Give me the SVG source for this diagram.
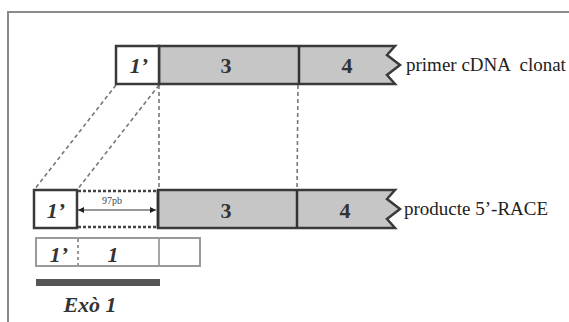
<svg xmlns="http://www.w3.org/2000/svg" width="569" height="322" viewBox="0 0 569 322">
<defs>
<style>
.frame{fill:none;stroke:#8a8a8a;stroke-width:2}
.bar{fill:#c6c6c6;stroke:#3a3a3a;stroke-width:2.5;stroke-linejoin:miter}
.box{fill:#fff;stroke:#3a3a3a;stroke-width:2.5}
.div{stroke:#333;stroke-width:2.5}
.dash{stroke:#777;stroke-width:1.6;stroke-dasharray:4 3;fill:none}
.dot{stroke:#444;stroke-width:2.5;stroke-dasharray:3 2;fill:none}
.lbl{font-family:"Liberation Serif",serif;font-weight:bold;font-size:22px;fill:#333;text-anchor:middle}
.it{font-style:italic}
.cap{font-family:"Liberation Serif",serif;font-size:19px;fill:#222;white-space:pre}
.light{fill:#fff;stroke:#9a9a9a;stroke-width:2}
</style>
<marker id="ah" viewBox="0 0 6 6" refX="6" refY="3" markerWidth="5" markerHeight="5" orient="auto-start-reverse">
<path d="M0,0 L6,3 L0,6 z" fill="#222"/>
</marker>
</defs>
<path class="frame" d="M8,322 V12 H569"/>
<g id="connectors">
<line class="dash" x1="116" y1="85" x2="34" y2="190"/>
<line class="dash" x1="159" y1="85" x2="77" y2="190"/>
<line class="dash" x1="159" y1="85" x2="159" y2="190"/>
<line class="dash" x1="298" y1="85" x2="297" y2="190"/>
</g>
<g id="top-bar">
<path class="bar" d="M159,46 H395 L387,55 L400,65 L387,75 L395,84 H159 Z"/>
<rect class="box" x="116" y="46" width="43" height="38"/>
<line class="div" x1="299" y1="46" x2="299" y2="84"/>
<text class="lbl it" x="139" y="73">1’</text>
<text class="lbl" x="226" y="73">3</text>
<text class="lbl" x="347" y="73">4</text>
<text class="cap" x="406" y="71" xml:space="preserve">primer cDNA  clonat</text>
</g>
<g id="race-bar">
<path class="bar" d="M158,190 H395 L387,199 L400,209 L387,219 L395,228 H158 Z"/>
<rect class="box" x="34" y="190" width="43" height="38"/>
<line class="dot" x1="78" y1="191" x2="157" y2="191"/>
<line class="dot" x1="78" y1="227" x2="157" y2="227"/>
<line class="div" x1="158" y1="190" x2="158" y2="228" stroke-width="3"/>
<line class="div" x1="297" y1="190" x2="297" y2="228"/>
<line x1="78" y1="210" x2="156" y2="210" stroke="#333" stroke-width="1.2" marker-start="url(#ah)" marker-end="url(#ah)"/>
<text x="112" y="204" font-family="Liberation Serif,serif" font-size="10" fill="#444" text-anchor="middle">97pb</text>
<text class="lbl it" x="56" y="218">1’</text>
<text class="lbl" x="226" y="218">3</text>
<text class="lbl" x="345" y="218">4</text>
<text class="cap" x="404" y="215">producte 5’-RACE</text>
</g>
<g id="exon-bar">
<rect class="light" x="36" y="238" width="164" height="28"/>
<line x1="78" y1="239" x2="78" y2="265" stroke="#777" stroke-width="1.5" stroke-dasharray="3 3"/>
<line x1="159" y1="239" x2="159" y2="265" stroke="#888" stroke-width="1.5"/>
<text class="lbl it" x="59" y="262">1’</text>
<text class="lbl it" x="113" y="262">1</text>
</g>
<g id="exon1">
<rect x="36" y="279" width="124" height="7" fill="#555"/>
<text class="lbl it" x="90" y="312">Exò 1</text>
</g>
</svg>
